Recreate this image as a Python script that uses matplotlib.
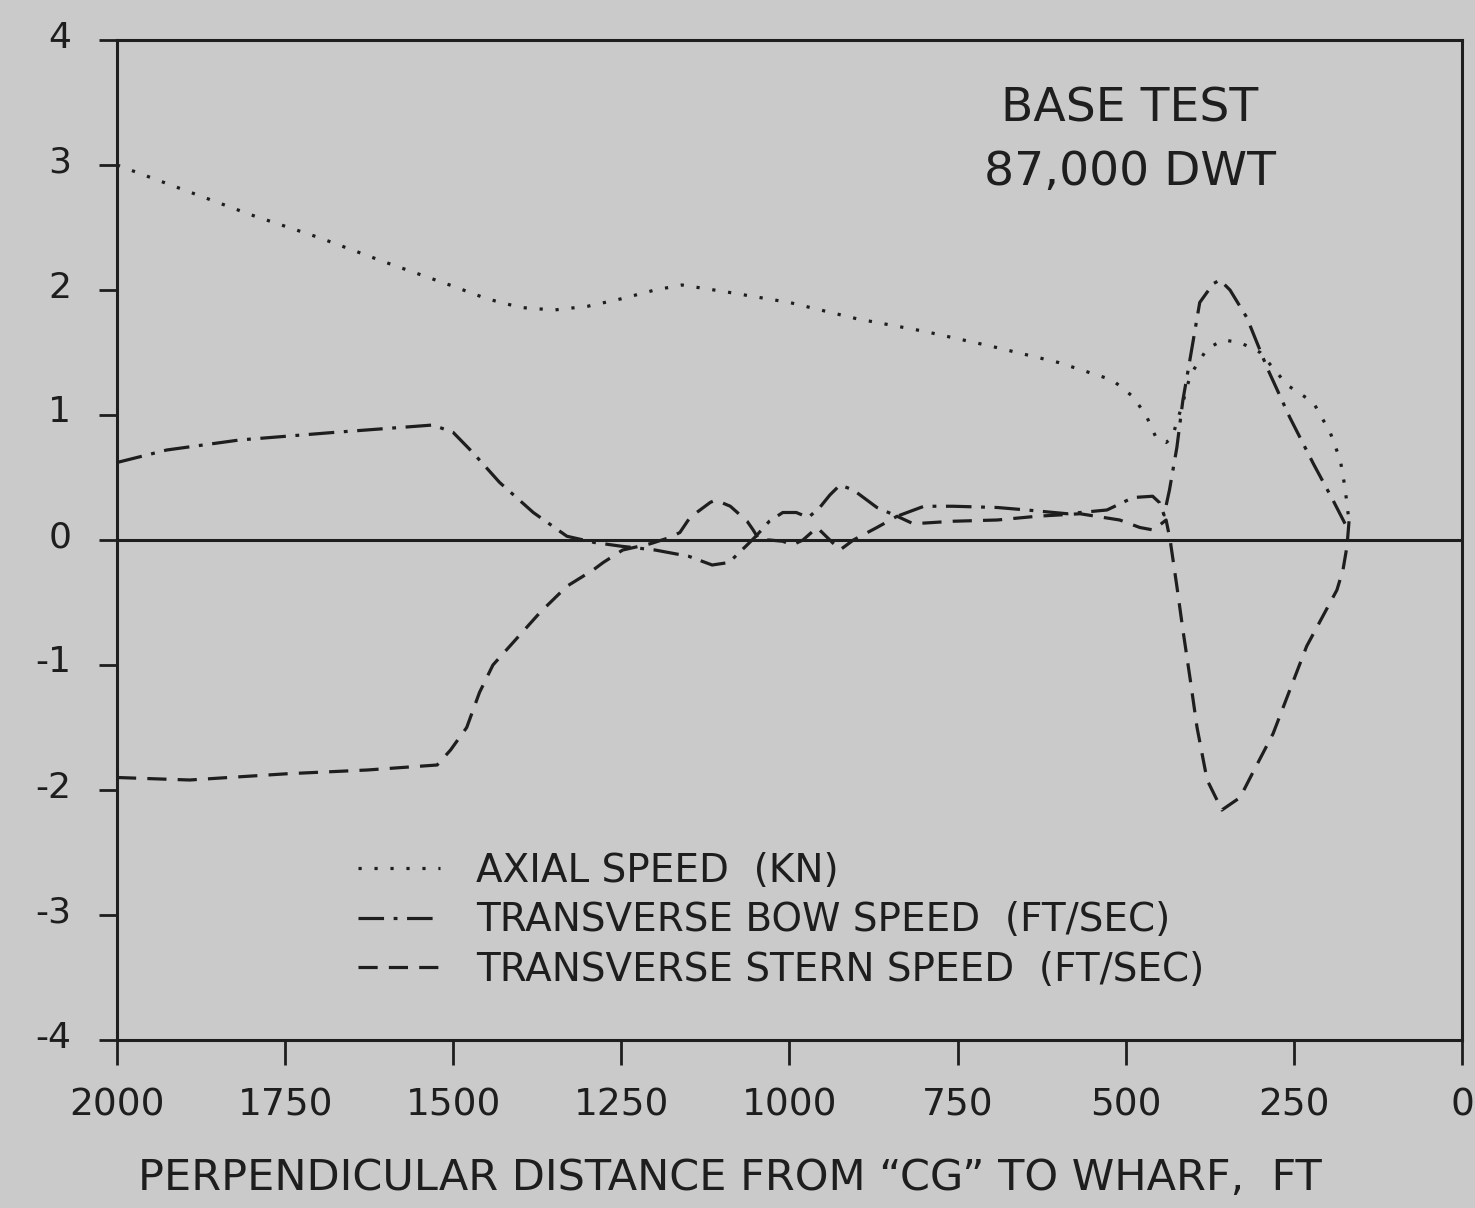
import matplotlib
matplotlib.use("Agg")
import matplotlib.pyplot as plt
from matplotlib.transforms import ScaledTranslation

# ---- data ----
axial_x = [2000, 1900, 1800, 1700, 1600, 1500, 1450, 1400, 1350, 1300, 1250, 1200, 1160,
           1100, 1000, 900, 800, 700, 600, 520, 490, 470, 455, 440, 431, 415, 404, 379,
           355, 330, 300, 260, 221, 196, 181, 174, 168]
axial_y = [3.0, 2.8, 2.6, 2.42, 2.22, 2.03, 1.93, 1.86, 1.84, 1.87, 1.93, 2.0, 2.04,
           1.99, 1.9, 1.77, 1.67, 1.55, 1.42, 1.28, 1.15, 1.0, 0.82, 0.78, 0.82, 1.1, 1.32, 1.53,
           1.6, 1.58, 1.5, 1.24, 1.1, 0.86, 0.64, 0.42, 0.15]

bow_x = [2000, 1926, 1818, 1679, 1530, 1500, 1471, 1431, 1381, 1331, 1290, 1250, 1200, 1150,
         1115, 1090, 1065, 1050, 1030, 1010, 990, 972, 955, 940, 925, 905, 870, 840, 800, 757,
         691, 647, 587, 528, 489, 460, 450, 443, 435, 424, 415, 404, 390, 370, 360, 345, 320,
         290, 256, 221, 192, 171]
bow_y = [0.62, 0.72, 0.80, 0.86, 0.92, 0.86, 0.70, 0.46, 0.22, 0.03, -0.02, -0.05, -0.08, -0.13,
         -0.2, -0.18, -0.05, 0.03, 0.15, 0.22, 0.22, 0.18, 0.26, 0.36, 0.44, 0.40, 0.26, 0.19, 0.27, 0.27,
         0.26, 0.24, 0.21, 0.24, 0.34, 0.35, 0.30, 0.20, 0.40, 0.74, 1.12, 1.46, 1.9, 2.05, 2.08, 2.0, 1.78,
         1.38, 0.98, 0.61, 0.32, 0.1]

stern_x = [2000, 1892, 1747, 1628, 1524, 1504, 1480, 1461, 1441, 1411, 1371, 1331, 1292, 1277,
           1248, 1207, 1178, 1163, 1148, 1118, 1110, 1088, 1063, 1054, 1045, 1030, 1010, 996, 980,
           959, 940, 925, 905, 870, 840, 816, 757, 691, 632, 568, 509, 479, 459, 440, 434, 424,
           415, 404, 394, 379, 357, 330, 311, 281, 256, 231, 207, 186, 177, 171, 168]
stern_y = [-1.9, -1.92, -1.87, -1.84, -1.8, -1.68, -1.5, -1.22, -1.0, -0.82, -0.58, -0.37, -0.24, -0.18,
           -0.08, -0.03, 0.02, 0.06, 0.18, 0.3, 0.32, 0.27, 0.15, 0.08, 0.0, 0.0, -0.01, -0.04, 0.0,
           0.1, 0.0, -0.08, 0.0, 0.1, 0.19, 0.13, 0.15, 0.16, 0.19, 0.21, 0.16, 0.1, 0.08, 0.16, 0.0, -0.37,
           -0.72, -1.12, -1.5, -1.92, -2.16, -2.06, -1.86, -1.55, -1.2, -0.85, -0.61, -0.4, -0.24, -0.05, 0.15]

x_ticks = [2000, 1750, 1500, 1250, 1000, 750, 500, 250, 0]
y_ticks = [-4, -3, -2, -1, 0, 1, 2, 3, 4]
labels = ["AXIAL SPEED  (KN)",
          "TRANSVERSE BOW SPEED  (FT/SEC)",
          "TRANSVERSE STERN SPEED  (FT/SEC)"]
note_lines = ["BASE TEST", "87,000 DWT"]
x_label = "PERPENDICULAR DISTANCE FROM \u201cCG\u201d TO WHARF,  FT"

# ---- style ----
plt.rcParams['font.family'] = ['DejaVu Sans']
bg = '#cacaca'
ink = '#1e1e1e'

fig = plt.figure(figsize=(14.75, 12.08), dpi=100, facecolor=bg)
ax = fig.add_axes([117/1475, 1 - 1040/1208, (1462-117)/1475, (1040-40)/1208])
ax.set_facecolor(bg)

lw = 2.3
ax.plot(axial_x, axial_y, color=ink, lw=lw, linestyle=(0, (1, 4)), label=labels[0])
ax.plot(bow_x, bow_y, color=ink, lw=lw, linestyle=(0, (8, 3, 1.2, 3)), label=labels[1])
ax.plot(stern_x, stern_y, color=ink, lw=lw, linestyle=(0, (6, 3.5)), label=labels[2])
ax.axhline(0, color=ink, lw=2.2, zorder=1)

ax.set_xlim(2000, 0)
ax.set_ylim(-4, 4)
ax.set_xticks(x_ticks)
ax.set_yticks(y_ticks)
ax.set_xticklabels([str(v) for v in x_ticks])
ax.set_yticklabels([str(v) for v in y_ticks])
ax.tick_params(axis='x', direction='out', length=18, width=2, color=ink, labelsize=27, pad=16,
               labelcolor=ink)
ax.tick_params(axis='y', direction='out', length=13, width=2, color=ink, labelsize=26, pad=20,
               labelcolor=ink)
shift = ScaledTranslation(0, 6/100, fig.dpi_scale_trans)
for lab in ax.get_yticklabels():
    lab.set_transform(lab.get_transform() + shift)
for s in ax.spines.values():
    s.set_linewidth(2.2)
    s.set_color(ink)

ax.set_xlabel(x_label, fontsize=31, color=ink, labelpad=24)
ax.xaxis.label.set_x((730 - 117) / 1345)

ax.text(0.753, 0.931, note_lines[0], transform=ax.transAxes, ha='center', va='center',
        fontsize=34, color=ink)
ax.text(0.753, 0.868, note_lines[1], transform=ax.transAxes, ha='center', va='center',
        fontsize=34, color=ink)

leg = ax.legend(loc='upper left', bbox_to_anchor=(0.1795, 0.188), frameon=False, fontsize=28,
                handlelength=2.1, handletextpad=0.93, labelspacing=0.29, borderpad=0,
                borderaxespad=0)
for t in leg.get_texts():
    t.set_color(ink)

fig.savefig('out.png', dpi=100, facecolor=bg)
